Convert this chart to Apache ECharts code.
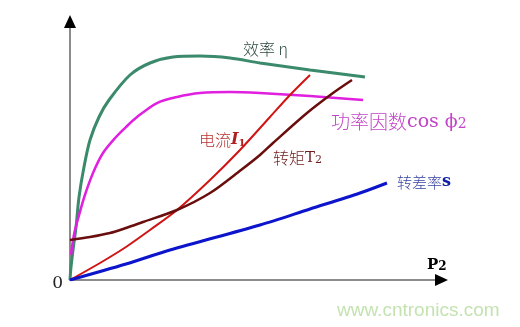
<!DOCTYPE html>
<html>
<head>
<meta charset="utf-8">
<script src="https://cdn.jsdelivr.net/npm/echarts@6/dist/echarts.min.js"></script>
<style>html,body{margin:0;padding:0;background:#fff;}#c{width:520px;height:327px;}</style>
</head>
<body>
<div id="c"></div>
<script>
// Data in relative units (0-100 on both axes)
const efficiency = [[0,0],[0.27,5.04],[0.81,11.63],[1.62,20.54],[2.43,32.17],[3.77,43.80],[5.39,54.26],[7.82,63.18],[10.51,69.77],[16.17,79.46],[21.56,84.11],[27.76,86.43],[35.04,86.82],[43.13,86.05],[51.21,84.11],[64.69,81.40],[79.51,78.68]];
const powerFactor = [[0.27,9.69],[0.54,12.79],[1.16,18.22],[2.08,23.26],[3.85,32.17],[6.20,41.47],[8.89,49.22],[12.40,55.43],[15.09,59.30],[18.06,63.18],[23.45,68.60],[28.84,70.93],[35.04,72.48],[43.13,72.87],[51.21,72.48],[64.69,71.32],[78.98,69.77]];
const current = [[0,0],[8.09,6.59],[15.09,12.79],[21.56,19.38],[28.84,27.13],[37.74,38.76],[45.82,50.39],[53.91,63.18],[59.30,71.71],[64.69,79.46]];
const torque = [[0,15.50],[5.39,16.67],[10.78,18.22],[15.09,20.16],[19.68,22.48],[28.84,27.13],[37.74,33.72],[46.09,42.64],[51.21,48.45],[54.72,53.10],[63.88,64.73],[70.89,72.48],[76.01,77.52]];
const slip = [[0,0],[15.09,6.20],[26.95,11.63],[51.21,21.32],[64.69,27.52],[78.17,33.72],[85.44,37.60]];

const cjk = '"Noto Sans CJK SC", sans-serif';
const serif = '"DejaVu Serif", "Liberation Serif", serif';

function line(name, data, color, width, smooth) {
  return { name, type: 'line', data, showSymbol: false, symbol: 'none', smooth: smooth,
    lineStyle: { color, width }, silent: true, animation: false, z: 3 };
}

const chart = echarts.init(document.getElementById('c'), null, { renderer: 'canvas' });
chart.setOption({
  animation: false,
  backgroundColor: '#ffffff',
  grid: { left: 70, right: 79, top: 22, bottom: 47 },
  xAxis: { type: 'value', min: 0, max: 100, axisLine: { show: true, lineStyle: { color: '#8c8c8c', width: 2 } },
    axisTick: { show: false }, axisLabel: { show: false }, splitLine: { show: false } },
  yAxis: { type: 'value', min: 0, max: 100, axisLine: { show: true, lineStyle: { color: '#8c8c8c', width: 2 } },
    axisTick: { show: false }, axisLabel: { show: false }, splitLine: { show: false } },
  series: [
    line('效率', efficiency, '#3b8a6c', 3, 0.3),
    line('功率因数', powerFactor, '#e01fe0', 2.5, 0.3),
    line('电流', current, '#d01414', 2, 0.3),
    line('转矩', torque, '#6a0d0d', 2.5, 0.3),
    line('转差率', slip, '#0c14cc', 3, 0.3)
  ],
  graphic: [
    { type: 'polygon', shape: { points: [[64,28],[76,28],[70,15]] }, style: { fill: '#000' }, z: 10 },
    { type: 'polygon', shape: { points: [[435,274],[435,286],[448,280]] }, style: { fill: '#000' }, z: 10 },
    { type: 'text', x: 63, y: 284, style: { text: '0', font: '17px ' + serif, fill: '#222', align: 'right', verticalAlign: 'middle' } },
    { type: 'text', x: 427, y: 265, style: { text: '{p|P}{s|2}', verticalAlign: 'middle',
        rich: { p: { font: 'bold 15px ' + serif, fill: '#000' }, s: { font: 'bold 12px ' + serif, fill: '#000', padding: [3,0,0,0] } } } },
    { type: 'text', x: 243, y: 49, style: { text: '效率 η', font: '300 16px ' + cjk, fill: '#2e4a40', verticalAlign: 'middle' } },
    { type: 'text', x: 331, y: 122, style: { text: '{a|功率因数}{b|cos ϕ}{c|2}', verticalAlign: 'middle',
        rich: { a: { font: '300 19px ' + cjk, fill: '#c244c8' }, b: { font: '19px ' + serif, fill: '#c244c8' }, c: { font: '14px ' + serif, fill: '#c244c8', padding: [4,0,0,0] } } } },
    { type: 'text', x: 199, y: 140, style: { text: '{a|电流}{b|I}{c|1}', verticalAlign: 'middle',
        rich: { a: { font: '300 16px ' + cjk, fill: '#b83232' }, b: { font: 'italic bold 16px ' + serif, fill: '#b02020' }, c: { font: 'bold 10px ' + serif, fill: '#b02020', padding: [6,0,0,0] } } } },
    { type: 'text', x: 273, y: 158, style: { text: '{a|转矩}{b|T}{c|2}', verticalAlign: 'middle',
        rich: { a: { font: '300 16px ' + cjk, fill: '#6e1c1c' }, b: { font: '15px ' + serif, fill: '#6e1c1c' }, c: { font: '11px ' + serif, fill: '#6e1c1c', padding: [4,0,0,0] } } } },
    { type: 'text', x: 397, y: 182, style: { text: '{a|转差率}{b|s}', verticalAlign: 'middle',
        rich: { a: { font: '300 15px ' + cjk, fill: '#3a46a0' }, b: { font: 'bold 16px ' + serif, fill: '#1020a8' } } } },
    { type: 'text', x: 337, y: 311, style: { text: 'www.cntronics.com', font: '19px "Liberation Sans", Arial, sans-serif', fill: '#c4e3b0', verticalAlign: 'middle' } }
  ]
});
</script>
</body>
</html>
